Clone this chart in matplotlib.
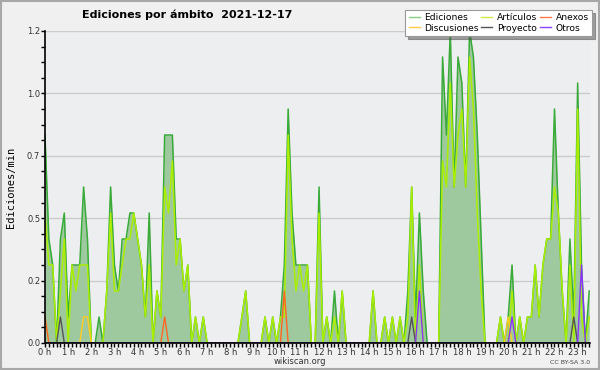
import numpy as np
import matplotlib
matplotlib.use("Agg")
from matplotlib import pyplot as plt
from matplotlib import ticker
from matplotlib.patches import Rectangle

# edits per minute, 10 minute bins, 0h00 .. 23h30
ediciones = [
    0.8, 0.4, 0.3, 0.0, 0.4, 0.5,
    0.1, 0.3, 0.3, 0.3, 0.6, 0.4,
    0.0, 0.0, 0.1, 0.0, 0.2, 0.6,
    0.3, 0.2, 0.4, 0.4, 0.5, 0.5,
    0.4, 0.3, 0.1, 0.5, 0.0, 0.2,
    0.1, 0.8, 0.8, 0.8, 0.4, 0.4,
    0.2, 0.3, 0.0, 0.1, 0.0, 0.1,
    0.0, 0.0, 0.0, 0.0, 0.0, 0.0,
    0.0, 0.0, 0.0, 0.1, 0.2, 0.0,
    0.0, 0.0, 0.0, 0.1, 0.0, 0.1,
    0.0, 0.1, 0.3, 0.9, 0.5, 0.3,
    0.3, 0.3, 0.3, 0.0, 0.0, 0.6,
    0.0, 0.1, 0.0, 0.2, 0.0, 0.2,
    0.0, 0.0, 0.0, 0.0, 0.0, 0.0,
    0.0, 0.2, 0.0, 0.0, 0.1, 0.0,
    0.1, 0.0, 0.1, 0.0, 0.2, 0.6,
    0.1, 0.5, 0.2, 0.0, 0.0, 0.0,
    0.0, 1.1, 0.8, 1.2, 0.6, 1.1,
    1.0, 0.6, 1.2, 1.1, 0.8, 0.4,
    0.0, 0.0, 0.0, 0.0, 0.1, 0.0,
    0.1, 0.3, 0.0, 0.1, 0.0, 0.1,
    0.1, 0.3, 0.1, 0.3, 0.4, 0.4,
    0.9, 0.5, 0.2, 0.0, 0.4, 0.1,
    1.0, 0.3, 0.0, 0.2,
]
articulos = [
    0.5, 0.3, 0.3, 0.0, 0.2, 0.4,
    0.0, 0.3, 0.2, 0.3, 0.3, 0.3,
    0.0, 0.0, 0.0, 0.0, 0.2, 0.5,
    0.2, 0.2, 0.3, 0.4, 0.4, 0.5,
    0.4, 0.3, 0.1, 0.3, 0.0, 0.2,
    0.1, 0.6, 0.5, 0.7, 0.3, 0.4,
    0.2, 0.3, 0.0, 0.1, 0.0, 0.1,
    0.0, 0.0, 0.0, 0.0, 0.0, 0.0,
    0.0, 0.0, 0.0, 0.1, 0.2, 0.0,
    0.0, 0.0, 0.0, 0.1, 0.0, 0.1,
    0.0, 0.1, 0.1, 0.8, 0.4, 0.2,
    0.3, 0.2, 0.3, 0.0, 0.0, 0.5,
    0.0, 0.1, 0.0, 0.1, 0.0, 0.2,
    0.0, 0.0, 0.0, 0.0, 0.0, 0.0,
    0.0, 0.2, 0.0, 0.0, 0.1, 0.0,
    0.1, 0.0, 0.1, 0.0, 0.1, 0.6,
    0.0, 0.3, 0.0, 0.0, 0.0, 0.0,
    0.0, 0.7, 0.6, 1.0, 0.6, 0.8,
    0.9, 0.6, 1.1, 0.9, 0.5, 0.2,
    0.0, 0.0, 0.0, 0.0, 0.1, 0.0,
    0.0, 0.2, 0.0, 0.1, 0.0, 0.1,
    0.1, 0.3, 0.1, 0.3, 0.4, 0.4,
    0.6, 0.5, 0.2, 0.0, 0.3, 0.0,
    0.9, 0.1, 0.0, 0.1,
]
# sparse series: {bin: value}
anexos = {0: 0.1, 31: 0.1, 62: 0.2}
discusiones = {10: 0.1, 11: 0.1, 120: 0.1}
proyecto = {4: 0.1, 95: 0.1, 137: 0.1}
otros = {97: 0.2, 121: 0.1, 139: 0.3}

hour_labels = [f"{h} h" for h in range(24)]
title = "Ediciones por ámbito  2021-12-17"

n = len(ediciones)
x = np.arange(n)


def dense(d):
    y = np.zeros(n)
    for k, v in d.items():
        y[k] = v
    return y


fig = plt.figure(figsize=(6, 3.7), dpi=100, facecolor="#f0f0f0")
fig.add_artist(Rectangle((0.001, 0.002), 0.997, 0.995, transform=fig.transFigure,
                         fill=False, edgecolor="#a8a8a8", lw=1.5))
ax = fig.add_axes([45 / 600, 1 - 343 / 370, 545 / 600, 312 / 370])
ax.set_facecolor("#edeef0")

ax.fill_between(x, ediciones, 0, color="#9ec99e", lw=0, zorder=2)
ax.plot(x, ediciones, color="#3aaa3a", lw=1.1, zorder=3)
ax.plot(x, articulos, color="#aaee00", lw=1.1, zorder=4)
ax.plot(x, dense(anexos), color="#ff6622", lw=1, zorder=5)
ax.plot(x, dense(discusiones), color="#ffcc22", lw=1, zorder=5)
ax.plot(x, dense(proyecto), color="#555555", lw=1, zorder=5)
ax.plot(x, dense(otros), color="#8833ff", lw=1, zorder=5)

ax.set_xlim(0, n - 0.8)
ax.set_ylim(0, 1.2)

ax.xaxis.set_major_locator(ticker.FixedLocator(np.arange(0, 24) * 6))
ax.xaxis.set_major_formatter(ticker.FixedFormatter(hour_labels))
ax.xaxis.set_minor_locator(ticker.MultipleLocator(1))
ax.yaxis.set_major_locator(ticker.FixedLocator(np.linspace(0, 1.2, 6)))
ax.yaxis.set_major_formatter(ticker.FuncFormatter(lambda v, p: f"{v:.1f}"))
ax.yaxis.set_minor_locator(ticker.MultipleLocator(0.06))

ax.tick_params(axis="both", which="major", length=3, width=1, labelsize=6,
               labelcolor="#333333", pad=0.5)
ax.tick_params(axis="both", which="minor", length=3, width=1)
ax.grid(axis="y", color="#cccccc", lw=1, zorder=1)
ax.set_axisbelow(True)

for s in ("top", "right"):
    ax.spines[s].set_visible(False)
ax.spines["left"].set_linewidth(1.2)
ax.spines["bottom"].set_linewidth(1.2)
ax.spines["left"].set_zorder(6)
ax.spines["bottom"].set_zorder(6)

ax.set_ylabel("Ediciones/min", family="DejaVu Sans Mono", fontsize=7.5, labelpad=8)

fig.text(187 / 600, 1 - 15 / 370, title, ha="center", va="center",
         fontsize=8, fontweight="bold")
fig.text(300 / 600, 1 - 362 / 370, "wikiscan.org", ha="center", va="center",
         fontsize=6, color="#333333")
fig.text(590 / 600, 1 - 362 / 370, "CC BY-SA 3.0", ha="right", va="center",
         fontsize=4.5, color="#444444")

handles = [
    plt.Line2D([], [], color="#88cc88", lw=1),
    plt.Line2D([], [], color="#ffcc44", lw=1),
    plt.Line2D([], [], color="#ccee44", lw=1),
    plt.Line2D([], [], color="#555555", lw=1),
    plt.Line2D([], [], color="#ff7744", lw=1),
    plt.Line2D([], [], color="#8844ff", lw=1),
]
labels = ["Ediciones", "Discusiones", "Artículos", "Proyecto", "Anexos", "Otros"]
leg = fig.legend(handles, labels, ncol=3, loc="upper right",
                 bbox_to_anchor=(592 / 600, 1 - 10 / 370), fontsize=6.6,
                 frameon=True, fancybox=False, shadow=True, borderpad=0.35,
                 handlelength=1.2, handletextpad=0.5, columnspacing=0.3,
                 labelspacing=0.15, borderaxespad=0)
leg.get_frame().set_edgecolor("#999999")
leg.get_frame().set_linewidth(0.8)

fig.savefig("out.png", dpi=100, facecolor=fig.get_facecolor())
